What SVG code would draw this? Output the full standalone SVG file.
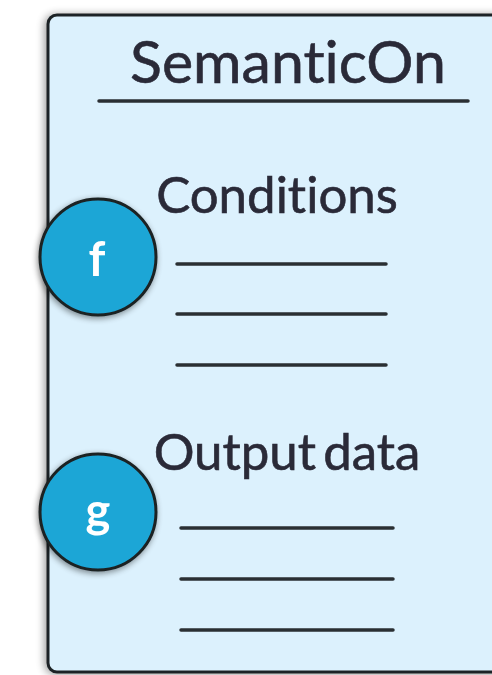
<svg xmlns="http://www.w3.org/2000/svg" width="492" height="675" viewBox="0 0 492 675">
  <defs>
    <filter id="shadow" x="-20%" y="-20%" width="140%" height="140%">
      <feGaussianBlur in="SourceAlpha" stdDeviation="3"/>
      <feOffset dx="-1" dy="2" result="b"/>
      <feComponentTransfer><feFuncA type="linear" slope="0.45"/></feComponentTransfer>
      <feMerge><feMergeNode/><feMergeNode in="SourceGraphic"/></feMerge>
    </filter>
    <filter id="soft" x="-5%" y="-5%" width="110%" height="110%">
      <feGaussianBlur in="SourceAlpha" stdDeviation="4"/>
      <feOffset dx="-2" dy="1"/>
      <feComponentTransfer><feFuncA type="linear" slope="0.4"/></feComponentTransfer>
      <feMerge><feMergeNode/><feMergeNode in="SourceGraphic"/></feMerge>
    </filter>
  </defs>
  <style>
    text { font-variant-ligatures: none; }
    .card { fill: #dcf1fd; stroke: #1e2426; stroke-width: 3; }
    .title { font-family: Lato, "Liberation Sans", sans-serif; fill: #2a2a38; text-anchor: middle; stroke: #2a2a38; stroke-width: 0.6; }
    .rule { stroke: #2a2f33; stroke-width: 3.5; stroke-linecap: round; }
    .badge { fill: #1fa6d6; stroke: #1a2124; stroke-width: 3; }
    .badge-text { font-family: Lato, "Liberation Sans", sans-serif; font-weight: bold; fill: #ffffff; font-size: 47px; text-anchor: middle; }
  </style>

  <g id="semanticon" filter="url(#soft)">
    <rect class="card" x="48" y="15" width="470" height="657" rx="9"/>
  </g>

  <g id="header">
    <text class="title" x="288" y="83" font-size="59">SemanticOn</text>
    <line class="rule" x1="99" y1="101" x2="468" y2="101"/>
  </g>

  <g id="conditions">
    <text class="title" x="277" y="213" font-size="51">Conditions</text>
    <line class="rule" x1="177" y1="264" x2="386" y2="264"/>
    <line class="rule" x1="177" y1="314" x2="386" y2="314"/>
    <line class="rule" x1="177" y1="365" x2="386" y2="365"/>
  </g>

  <g id="output-data">
    <text class="title" x="287" y="470" font-size="51" word-spacing="-6">Output data</text>
    <line class="rule" x1="181" y1="528" x2="393" y2="528"/>
    <line class="rule" x1="181" y1="579" x2="393" y2="579"/>
    <line class="rule" x1="181" y1="630" x2="393" y2="630"/>
  </g>

  <g id="badge-f" filter="url(#shadow)">
    <circle class="badge" cx="98" cy="257" r="58"/>
    <text class="badge-text" x="97" y="276">f</text>
  </g>

  <g id="badge-g" filter="url(#shadow)">
    <circle class="badge" cx="98" cy="512" r="58"/>
    <text class="badge-text" x="98" y="527">g</text>
  </g>

  <g id="connectors"/>
</svg>
